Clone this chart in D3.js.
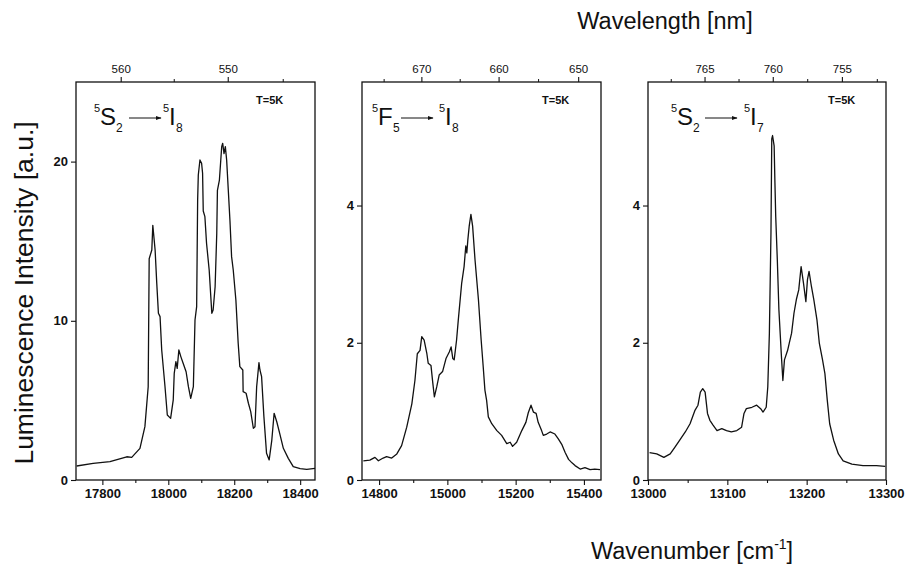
<!DOCTYPE html>
<html><head><meta charset="utf-8">
<script src="https://cdn.jsdelivr.net/npm/d3@7"></script>
<style>
body{margin:0;background:#fff;}
svg{display:block;}
text{font-family:"Liberation Sans", Arial, sans-serif;fill:#111;}
</style>
</head><body>
<svg id="chart" width="906" height="567"></svg>
<script>
// ---------- DATA ----------
// Panel 1: 5S2 -> 5I8
const p1Wavenumber = [17722,17772,17823,17874,17889,17914,17929,17939,17942,17950,17953,17960,17965,17970,17975,17980,17990,17997,18007,18015,18018,18023,18027,18032,18038,18045,18054,18061,18068,18076,18081,18086,18089,18091,18096,18101,18104,18106,18111,18116,18124,18132,18136,18142,18147,18149,18155,18162,18165,18169,18173,18177,18182,18187,18192,18197,18205,18212,18217,18226,18227,18236,18243,18250,18258,18263,18268,18275,18278,18283,18290,18298,18306,18314,18321,18329,18339,18349,18364,18379,18400,18420,18445];
const p1Intensity  = [0.88,1.05,1.15,1.46,1.42,1.99,3.35,5.86,13.9,14.45,16.0,14.45,12.35,10.47,10.26,8.17,5.86,4.08,3.87,5.03,6.70,7.43,7.01,8.17,7.75,7.33,6.80,5.86,5.13,5.86,10.05,10.89,17.6,19.16,20.1,19.9,19.27,16.9,16.54,14.87,13.19,10.47,10.68,12.14,15.5,18.2,18.84,20.94,21.15,20.5,20.94,20.1,18.2,16.3,14.03,13.19,11.31,8.59,7.12,6.91,5.55,5.45,4.82,4.29,3.25,3.35,5.86,7.37,6.91,6.49,3.98,1.68,1.26,2.51,4.19,3.66,2.83,1.99,1.36,0.84,0.72,0.67,0.73];
// Panel 2: 5F5 -> 5I8
const p2Wavenumber = [14754,14773,14788,14798,14812,14822,14837,14852,14866,14881,14896,14905,14912,14920,14925,14932,14940,14944,14952,14957,14962,14969,14976,14986,14996,15006,15011,15016,15020,15027,15032,15042,15049,15054,15057,15060,15064,15069,15074,15081,15091,15099,15105,15110,15115,15120,15130,15145,15159,15174,15184,15191,15203,15218,15230,15237,15245,15252,15260,15266,15276,15281,15291,15301,15315,15325,15335,15345,15355,15365,15374,15389,15403,15418,15432,15447];
const p2Intensity  = [0.28,0.29,0.33,0.28,0.32,0.34,0.32,0.38,0.50,0.77,1.11,1.45,1.84,1.89,2.09,2.04,1.84,1.70,1.67,1.43,1.21,1.36,1.53,1.58,1.77,1.87,1.94,1.77,1.75,2.04,2.33,2.87,3.11,3.41,3.31,3.50,3.70,3.87,3.70,3.21,2.63,2.04,1.65,1.31,1.16,0.92,0.82,0.72,0.65,0.53,0.55,0.49,0.55,0.72,0.84,0.98,1.09,0.99,0.97,0.84,0.72,0.65,0.67,0.70,0.67,0.60,0.52,0.40,0.30,0.25,0.21,0.16,0.18,0.15,0.16,0.15];
// Panel 3: 5S2 -> 5I7
const p3Wavenumber = [13002,13011,13020,13028,13034,13040,13047,13053,13059,13063,13066,13069,13072,13075,13078,13082,13087,13093,13099,13105,13112,13118,13121,13124,13131,13137,13142,13145,13149,13151,13153,13155,13156,13157,13159,13160,13161,13163,13165,13168,13170,13172,13176,13178,13181,13184,13187,13190,13193,13196,13199,13201,13203,13206,13209,13213,13216,13220,13223,13226,13229,13234,13240,13246,13257,13271,13288,13299];
const p3Intensity  = [0.40,0.38,0.33,0.38,0.48,0.58,0.70,0.82,1.01,1.09,1.28,1.33,1.28,0.97,0.87,0.80,0.72,0.75,0.72,0.70,0.72,0.77,0.97,1.04,1.06,1.09,1.04,0.99,1.06,1.36,2.14,3.60,4.97,5.02,4.87,4.33,3.84,3.21,2.48,1.84,1.45,1.75,1.89,1.99,2.14,2.43,2.63,2.77,3.11,2.87,2.60,2.92,3.04,2.82,2.63,2.33,1.99,1.75,1.55,1.16,0.82,0.58,0.38,0.28,0.23,0.21,0.21,0.20];

// Tick values
const p1XTicks = [17800, 18000, 18200, 18400];
const p1XMinor = [17900, 18100, 18300];
const p1YTicks = [0, 10, 20];
const p1WlMajor = [560, 550];
const p1WlMinor = [555, 545];

const p2XTicks = [14800, 15000, 15200, 15400];
const p2XMinor = [14900, 15100, 15300];
const p2YTicks = [0, 2, 4];
const p2WlMajor = [670, 660, 650];
const p2WlMinor = [675, 665, 655];

const p3XTicks = [13000, 13100, 13200, 13300];
const p3XMinor = [13050, 13150, 13250];
const p3YTicks = [0, 2, 4];
const p3WlMajor = [765, 760, 755];
const p3WlMinor = [767.5, 762.5, 757.5, 752.5];

// Labels
const p1Label = {pre:"5", main:"S", sub:"2", pre2:"5", main2:"I", sub2:"8"};
const p2Label = {pre:"5", main:"F", sub:"5", pre2:"5", main2:"I", sub2:"8"};
const p3Label = {pre:"5", main:"S", sub:"2", pre2:"5", main2:"I", sub2:"7"};
const tempLabel = "T=5K";

// ---------- LAYOUT ----------
const svg = d3.select("#chart");
const yTop = 82, yBottom = 480;

const panels = [
  {left:76,  right:315, xDomain:[17720,18445], yDomain:[0,25],   xs:p1Wavenumber, ys:p1Intensity, xt:p1XTicks, xm:p1XMinor, yt:p1YTicks, wl:p1WlMajor, wm:p1WlMinor, lab:p1Label,
   lp:{sup:18, main:24, sub:40, a0:53, a1:85, sup2:87, main2:93, sub2:100}},
  {left:362, right:601, xDomain:[14750,15450], yDomain:[0,5.8],  xs:p2Wavenumber, ys:p2Intensity, xt:p2XTicks, xm:p2XMinor, yt:p2YTicks, wl:p2WlMajor, wm:p2WlMinor, lab:p2Label,
   lp:{sup:10, main:16, sub:31, a0:39, a1:71, sup2:77, main2:83, sub2:90}},
  {left:648, right:886, xDomain:[13000,13300], yDomain:[0,5.8],  xs:p3Wavenumber, ys:p3Intensity, xt:p3XTicks, xm:p3XMinor, yt:p3YTicks, wl:p3WlMajor, wm:p3WlMinor, lab:p3Label,
   lp:{sup:23, main:29, sub:45, a0:57, a1:89, sup2:96, main2:102, sub2:109}}
];

svg.append("defs").append("marker")
  .attr("id","arr").attr("viewBox","0 0 10 10").attr("refX",9).attr("refY",5)
  .attr("markerWidth",6).attr("markerHeight",6).attr("orient","auto")
  .append("path").attr("d","M0,1.5L10,5L0,8.5Z").attr("fill","#111");

panels.forEach(p => {
  const x = d3.scaleLinear().domain(p.xDomain).range([p.left, p.right]);
  const y = d3.scaleLinear().domain(p.yDomain).range([yBottom, yTop]);
  const g = svg.append("g");

  g.append("g").attr("transform",`translate(0,${yBottom})`)
    .call(d3.axisBottom(x).tickValues(p.xt).tickSize(5).tickSizeOuter(0).tickPadding(4).tickFormat(d3.format("d")));
  g.append("g").attr("transform",`translate(0,${yBottom})`)
    .call(d3.axisBottom(x).tickValues(p.xm).tickSize(3).tickSizeOuter(0).tickFormat(""));
  g.append("g").attr("transform",`translate(${p.left},0)`)
    .call(d3.axisLeft(y).tickValues(p.yt).tickSize(5).tickSizeOuter(0).tickPadding(3).tickFormat(d3.format("d")));

  g.selectAll(".domain").remove();
  g.selectAll(".tick line").attr("stroke","#111").attr("stroke-width",1.1);
  g.selectAll(".tick text").attr("fill","#111").style("font-size","13px").style("font-weight","bold")
    .style("font-family","'Liberation Sans', Arial, sans-serif");

  const tg = g.append("g");
  tg.selectAll("line.maj").data(p.wl).join("line").attr("class","maj")
    .attr("x1", d => x(1e7/d)).attr("x2", d => x(1e7/d))
    .attr("y1", yTop).attr("y2", yTop-5).attr("stroke","#111").attr("stroke-width",1.1);
  tg.selectAll("line.min").data(p.wm).join("line").attr("class","min")
    .attr("x1", d => x(1e7/d)).attr("x2", d => x(1e7/d))
    .attr("y1", yTop).attr("y2", yTop-3).attr("stroke","#111").attr("stroke-width",1);
  tg.selectAll("text").data(p.wl).join("text")
    .attr("x", d => x(1e7/d)).attr("y", yTop-9).attr("text-anchor","middle")
    .style("font-size","11.5px").text(d => d);

  g.append("rect").attr("x",p.left).attr("y",yTop).attr("width",p.right-p.left).attr("height",yBottom-yTop)
    .attr("fill","none").attr("stroke","#111").attr("stroke-width",1.3);

  const pts = p.xs.map((v,i) => [v, p.ys[i]]);
  g.append("path").datum(pts)
    .attr("d", d3.line().x(d => x(d[0])).y(d => y(d[1])))
    .attr("fill","none").attr("stroke","#111").attr("stroke-width",1.3).attr("stroke-linejoin","round");

  const L = p.left, lp = p.lp, lab = p.lab;
  const t = g.append("text");
  t.append("tspan").attr("x", L+lp.sup).attr("y",112).style("font-size","11px").text(lab.pre);
  t.append("tspan").attr("x", L+lp.main).attr("y",125).style("font-size","24px").text(lab.main);
  t.append("tspan").attr("x", L+lp.sub).attr("y",132).style("font-size","12px").text(lab.sub);
  t.append("tspan").attr("x", L+lp.sup2).attr("y",112).style("font-size","11px").text(lab.pre2);
  t.append("tspan").attr("x", L+lp.main2).attr("y",125).style("font-size","24px").text(lab.main2);
  t.append("tspan").attr("x", L+lp.sub2).attr("y",132).style("font-size","12px").text(lab.sub2);
  g.append("line").attr("x1",L+lp.a0).attr("x2",L+lp.a1).attr("y1",118).attr("y2",118)
    .attr("stroke","#111").attr("stroke-width",1).attr("marker-end","url(#arr)");

  g.append("text").attr("x", L+180).attr("y",104).style("font-size","11px").style("font-weight","bold").text(tempLabel);
});

svg.append("text").attr("x",665).attr("y",29).attr("text-anchor","middle").style("font-size","23.5px").text("Wavelength [nm]");
const wt = svg.append("text").attr("x",692).attr("y",559).attr("text-anchor","middle").style("font-size","23.5px");
wt.append("tspan").text("Wavenumber [cm");
wt.append("tspan").attr("dy",-10).style("font-size","14px").text("-1");
wt.append("tspan").attr("dy",10).text("]");
svg.append("text").attr("transform","translate(33,293) rotate(-90)").attr("text-anchor","middle")
  .style("font-size","26.5px").text("Luminescence Intensity  [a.u.]");
</script>
</body></html>
